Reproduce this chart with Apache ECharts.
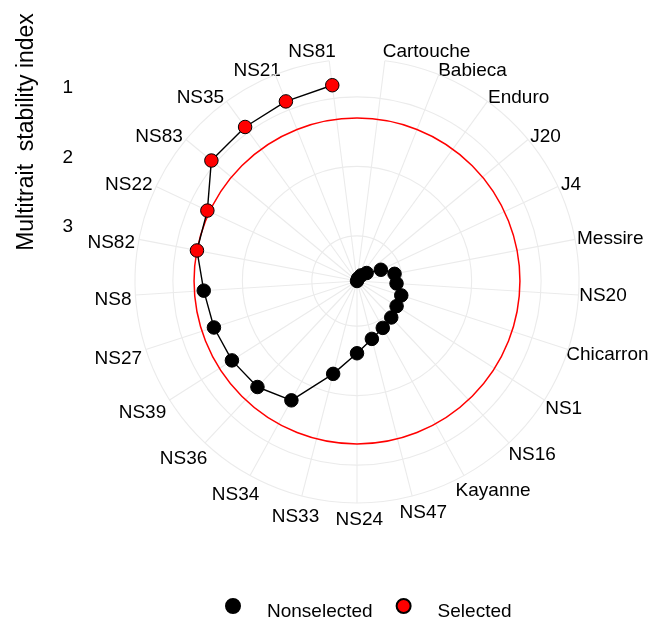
<!DOCTYPE html>
<html>
<head>
<meta charset="utf-8">
<script src="https://cdn.jsdelivr.net/npm/echarts@6/dist/echarts.min.js"></script>
<style>
  html, body { margin: 0; padding: 0; background: #ffffff; }
  #chart { width: 649px; height: 619px; }
</style>
</head>
<body>
<div id="chart"></div>
<script>
// Genotypes in plotting order (clockwise from the top) and their MGIDI scores
const genotypes = ['Cartouche', 'Babieca', 'Enduro', 'J20', 'J4', 'Messire', 'NS20', 'Chicarron',
  'NS1', 'NS16', 'Kayanne', 'NS47', 'NS24', 'NS33', 'NS34', 'NS36', 'NS39', 'NS27', 'NS8',
  'NS82', 'NS22', 'NS83', 'NS35', 'NS21', 'NS81'];
const mgidi = [3.65, 3.61, 3.55, 3.47, 3.27, 3.10, 3.08, 2.98, 2.975, 2.93, 2.88, 2.79, 2.61,
  2.27, 1.69, 1.557, 1.518, 1.485, 1.44, 1.305, 1.27, 0.93, 0.91, 0.87, 0.81];
const status = ['Nonselected', 'Nonselected', 'Nonselected', 'Nonselected', 'Nonselected',
  'Nonselected', 'Nonselected', 'Nonselected', 'Nonselected', 'Nonselected', 'Nonselected',
  'Nonselected', 'Nonselected', 'Nonselected', 'Nonselected', 'Nonselected', 'Nonselected',
  'Nonselected', 'Nonselected', 'Selected', 'Selected', 'Selected', 'Selected', 'Selected', 'Selected'];
const radiusTicks = [1, 2, 3];
const groups = ['Nonselected', 'Selected'];
const groupColors = { Nonselected: '#000000', Selected: '#ff0000' };
const yTitle = 'Multitrait  stability index';

const FONT = "'Liberation Sans', Arial, sans-serif";
const GRID = '#ebebeb';
const LABEL_SIZE = 19;
const LABEL_LINE = 20;

// Selection cut-off: highest index among the selected genotypes
const cutoff = Math.max(...mgidi.filter((v, i) => status[i] === 'Selected'));

// Reversed radius: best (lowest) index sits farthest out; the data span fills 0.4/0.45 of the radius
const hi = Math.max(...mgidi);
const lo = Math.min(...mgidi);
const rMin = hi - (hi - lo) * 1.125;
const rMax = hi;

const center = [357, 281];
const outerR = 222;
const labelMargin = -30;   // axis label anchor sits inside the ring...
const labelRadius = 226;   // ...and padding pushes each label out to this radius

const chart = echarts.init(document.getElementById('chart'), null, { renderer: 'canvas' });

const pairs = mgidi.map((v, i) => [v, genotypes[i]]);

// Angle labels: left-aligned on the right half, right-aligned on the left half,
// drifting to centred and slightly lowered towards the bottom.
const measure = document.createElement('canvas').getContext('2d');
measure.font = LABEL_SIZE + 'px ' + FONT;

function clamp(v, a, b) { return Math.max(a, Math.min(b, v)); }

function labelPadding(i, name) {
  const n = genotypes.length;
  const th = (i + 0.5) * 2 * Math.PI / n;
  const s = Math.sin(th), c = Math.cos(th);
  const w = measure.measureText(name).width;
  const h = LABEL_LINE;
  const re = outerR + labelMargin;
  const px = center[0] + re * s, py = center[1] - re * c;
  // alignment the angle axis picks for this position
  const align = Math.abs(px - center[0]) / outerR < 0.3 ? 'center' : (px > center[0] ? 'left' : 'right');
  const valign = Math.abs(py - center[1]) / outerR < 0.3 ? 'middle' : (py > center[1] ? 'top' : 'bottom');
  // horizontal justification of the text box against the anchor point
  const hj = c > 0
    ? (s > 0 ? 0.03 : (Math.abs(s) < 0.4 ? 0.85 : 1))
    : clamp(0.45 - 0.65 * s, 0.07, 1);
  const ax = center[0] + labelRadius * s, ay = center[1] - labelRadius * c;
  const xl = ax - hj * w;
  let yc = ay + (c > 0 ? (Math.abs(s) < 0.2 ? -5 : 0) : -13 * c);
  if (s < 0 && c < 0.3) yc += 4;
  let pt = 0, pr = 0, pb = 0, pl = 0;
  if (align === 'left') pl = xl - px;
  else if (align === 'right') pr = px - (xl + w);
  else { const d = 2 * (xl + w / 2 - px); if (d > 0) pl = d; else pr = -d; }
  const lineCenter = valign === 'bottom' ? py - h / 2 : (valign === 'top' ? py + h / 2 : py);
  const dv = 2 * (yc - lineCenter);
  if (dv > 0) pt = dv; else pb = -dv;
  return [pt, pr, pb, pl].map(v => Math.max(0, v));
}

const labelRich = {};
genotypes.forEach((g, i) => {
  labelRich['g' + i] = { padding: labelPadding(i, g), fontSize: LABEL_SIZE, color: '#000', fontFamily: FONT };
});

// circle through a given radius value, drawn on the polar scale
function ringItem(color, width) {
  return function (params, api) {
    const p = api.coord([api.value(0), api.value(1)]);
    const cs = params.coordSys;
    const r = Math.hypot(p[0] - cs.cx, p[1] - cs.cy);
    return {
      type: 'circle',
      shape: { cx: cs.cx, cy: cs.cy, r: r },
      style: { fill: 'none', stroke: color, lineWidth: width }
    };
  };
}

const option = {
  animation: false,
  backgroundColor: '#ffffff',
  textStyle: { fontFamily: FONT },
  polar: { center: center, radius: outerR },
  angleAxis: {
    type: 'category',
    data: genotypes,
    boundaryGap: false,
    startAngle: 90 - 180 / genotypes.length,
    clockwise: true,
    axisLine: { show: true, lineStyle: { color: GRID, width: 1.1 } },
    axisTick: { show: false, interval: 0 },
    splitLine: { show: true, interval: 0, lineStyle: { color: GRID, width: 1.1 } },
    axisLabel: {
      show: true, interval: 0, fontSize: LABEL_SIZE, lineHeight: LABEL_LINE,
      color: '#000', margin: labelMargin, fontFamily: FONT,
      formatter: function (value) { return '{g' + genotypes.indexOf(value) + '|' + value + '}'; },
      rich: labelRich
    },
    z: 0
  },
  radiusAxis: {
    type: 'value',
    inverse: true,
    min: rMin,
    max: rMax,
    axisLine: { show: false },
    axisTick: { show: false },
    axisLabel: { show: false },
    splitLine: { show: false },
    z: 0
  },
  grid: { left: 81, top: center[1] - outerR - 9, width: 10, height: outerR },
  xAxis: { type: 'value', show: false },
  yAxis: {
    type: 'value',
    inverse: true,
    min: rMin,
    max: rMax,
    axisLine: { show: false },
    axisTick: { show: false },
    splitLine: { show: false },
    axisLabel: { customValues: radiusTicks, fontSize: LABEL_SIZE, color: '#000', margin: 8, fontFamily: FONT }
  },
  legend: {
    data: groups,
    left: 220,
    top: 593,
    icon: 'circle',
    itemWidth: 14,
    itemHeight: 14,
    itemGap: 23,
    formatter: '{t|{name}}',
    textStyle: {
      fontSize: LABEL_SIZE, color: '#000', fontFamily: FONT,
      rich: { t: { fontSize: LABEL_SIZE, color: '#000', fontFamily: FONT, padding: [12, 0, 0, 22] } }
    }
  },
  graphic: [{
    type: 'text',
    x: 27,
    y: 132,
    rotation: Math.PI / 2,
    style: {
      text: yTitle,
      fontSize: 23,
      fontFamily: FONT,
      fill: '#000',
      align: 'center',
      verticalAlign: 'middle'
    }
  }],
  series: [
    {
      name: 'rings',
      type: 'custom',
      coordinateSystem: 'polar',
      data: radiusTicks.map(v => [v, genotypes[0]]),
      silent: true,
      z: 1,
      renderItem: ringItem(GRID, 1.1)
    },
    {
      name: 'cutoff',
      type: 'custom',
      coordinateSystem: 'polar',
      data: [[cutoff, genotypes[0]]],
      silent: true,
      z: 2,
      renderItem: ringItem('#ff0000', 1.5)
    },
    {
      name: 'path',
      type: 'line',
      coordinateSystem: 'polar',
      data: pairs,
      symbol: 'none',
      lineStyle: { color: '#000', width: 1.4 },
      silent: true,
      z: 3
    }
  ].concat(groups.map(g => ({
    name: g,
    type: 'scatter',
    coordinateSystem: 'polar',
    data: pairs.filter((p, i) => status[i] === g),
    symbol: 'circle',
    symbolSize: 13.5,
    itemStyle: { color: groupColors[g], borderColor: '#000', borderWidth: 1, opacity: 1 },
    z: 4
  })))
};

chart.setOption(option);
</script>
</body>
</html>
